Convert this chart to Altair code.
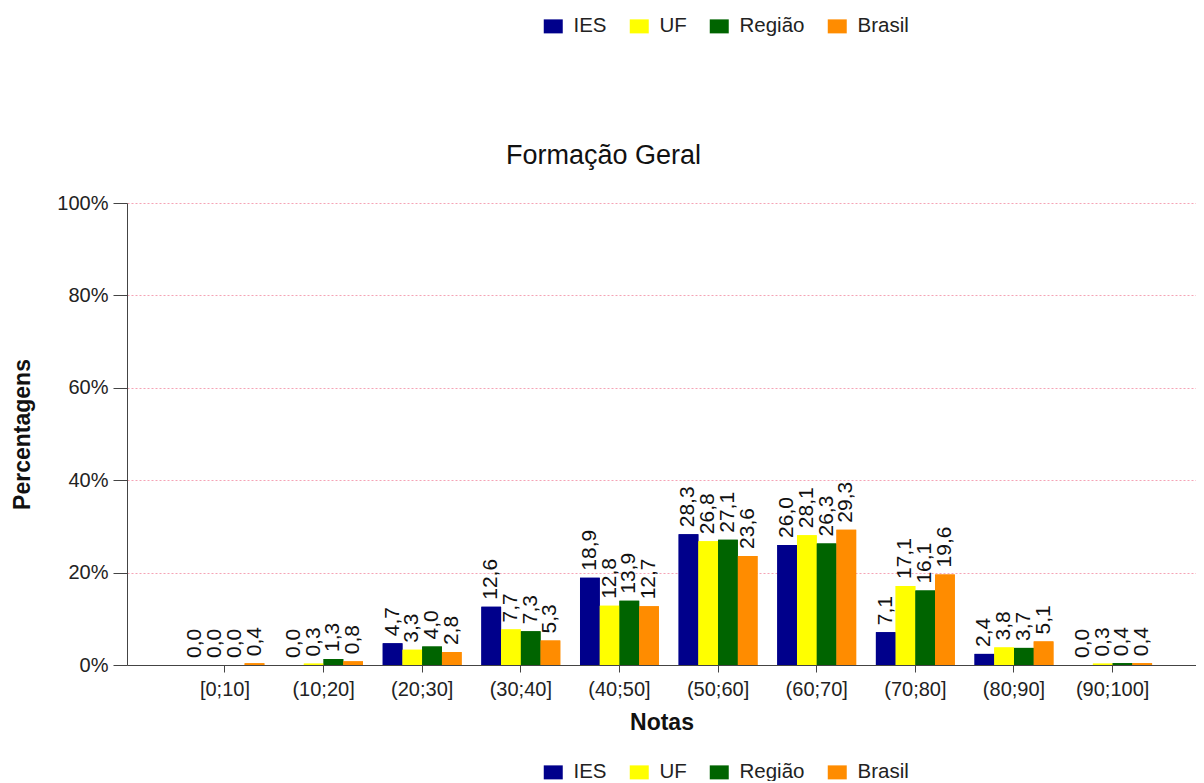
import altair as alt
import pandas as pd

notas = ["[0;10]", "(10;20]", "(20;30]", "(30;40]", "(40;50]",
         "(50;60]", "(60;70]", "(70;80]", "(80;90]", "(90;100]"]
grupos = ["IES", "UF", "Região", "Brasil"]
ies = [0.0, 0.0, 4.7, 12.6, 18.9, 28.3, 26.0, 7.1, 2.4, 0.0]
uf = [0.0, 0.3, 3.3, 7.7, 12.8, 26.8, 28.1, 17.1, 3.8, 0.3]
regiao = [0.0, 1.3, 4.0, 7.3, 13.9, 27.1, 26.3, 16.1, 3.7, 0.4]
brasil = [0.4, 0.8, 2.8, 5.3, 12.7, 23.6, 29.3, 19.6, 5.1, 0.4]
cores = ["#00008B", "#FFFF00", "#006400", "#FF8C00"]
y_ticks = [0, 20, 40, 60, 80, 100]

series = {"IES": ies, "UF": uf, "Região": regiao, "Brasil": brasil}
rows = []
for g in grupos:
    for n, v in zip(notas, series[g]):
        rows.append({"Notas": n, "Grupo": g, "Valor": v})
df = pd.DataFrame(rows)

FONT = "Liberation Sans"
rect_symbol = "M-1,-0.737H1V0.737H-1Z"

x_enc = alt.X(
    "Notas:N", sort=notas,
    scale=alt.Scale(paddingInner=0.2, paddingOuter=0.519, align=0.571),
    axis=alt.Axis(
        title="Notas", labelAngle=0, tickSize=7, labelPadding=7,
        labelFontSize=20, labelColor="#222", titleFontSize=23,
        titleFontWeight="bold", titleColor="#111", titleY=57,
        titleBaseline="middle", domainColor="#444", tickColor="#444",
        grid=False,
    ),
)
xoff_enc = alt.XOffset("Grupo:N", sort=grupos,
                       scale=alt.Scale(paddingInner=0, paddingOuter=0))
y_enc = alt.Y(
    "Valor:Q",
    scale=alt.Scale(domain=[0, 100], nice=False),
    axis=alt.Axis(
        values=y_ticks, labelExpr="datum.value + '%'", title="Percentagens",
        tickSize=14, labelPadding=5, labelFontSize=20, labelColor="#222",
        titleFontSize=23, titleFontWeight="bold", titleColor="#111",
        titleX=-105, titleY=231, titleAngle=270, titleBaseline="middle",
        titleAlign="center", grid=True, gridColor="#f5a3b5",
        gridDash=[2, 2], gridWidth=1, domainColor="#444", tickColor="#444",
    ),
)

def legend(y):
    return alt.Legend(
        orient="none", legendX=416, legendY=y, direction="horizontal",
        title=None, labelFontSize=20.5, labelColor="#222", labelFont=FONT,
        symbolType=rect_symbol, symbolSize=361, symbolStrokeWidth=0,
        symbolOpacity=1, labelOffset=10, columnPadding=22, padding=0,
    )

color_scale = alt.Scale(domain=grupos, range=cores)

base = alt.Chart(df)
bars_top = base.mark_bar().encode(
    x=x_enc, xOffset=xoff_enc, y=y_enc,
    color=alt.Color("Grupo:N", scale=color_scale, sort=grupos, legend=legend(-187)),
)
bars_bottom = base.mark_bar().encode(
    x=x_enc, xOffset=xoff_enc, y=y_enc,
    color=alt.Color("Grupo:N", scale=color_scale, sort=grupos, legend=legend(559)),
)
labels = base.transform_calculate(
    label="replace(format(datum.Valor, '.1f'), '.', ',')"
).mark_text(
    angle=270, align="left", baseline="middle", dx=7, fontSize=21,
    color="#111", font=FONT,
).encode(x=x_enc, xOffset=xoff_enc, y=y_enc, text="label:N")

chart = alt.layer(bars_top, bars_bottom, labels).resolve_scale(
    color="independent"
).properties(
    width=1069, height=462,
    autosize=alt.AutoSizeParams(type="none"),
    padding={"left": 119, "top": 195, "right": 0, "bottom": 116},
    title=alt.TitleParams(
        "Formação Geral", fontSize=27, fontWeight="normal", anchor="middle",
        dx=-58, dy=154, offset=0, color="#111", font=FONT,
    ),
).configure(font=FONT).configure_view(stroke=None)

chart.save("out.html", embed_options={"renderer": "svg", "actions": False})
